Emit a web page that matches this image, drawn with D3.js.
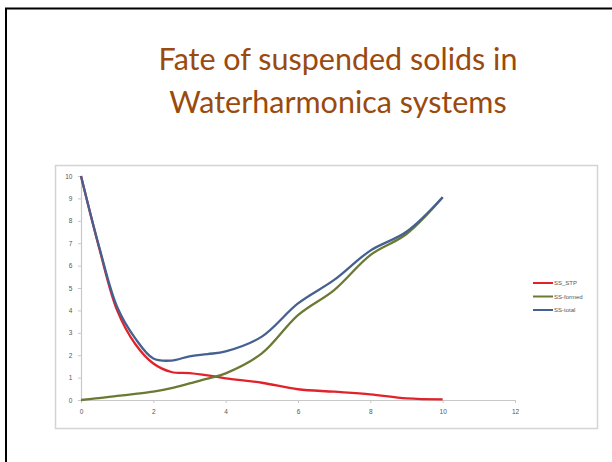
<!DOCTYPE html>
<html>
<head>
<meta charset="utf-8">
<script src="https://cdn.jsdelivr.net/npm/d3@7"></script>
<style>
  html, body { margin: 0; padding: 0; background: #fff; }
  svg { display: block; }
</style>
</head>
<body>
<svg></svg>
<script>
var width = 612;
var height = 462;

// values
var xValues = [0, 0.5, 1, 1.5, 2, 2.5, 3, 3.5, 4, 5, 6, 7, 8, 9, 10];
var ssStp = [10, 6.8, 4.0, 2.5, 1.63, 1.25, 1.2, 1.1, 0.97, 0.77, 0.48, 0.37, 0.25, 0.07, 0.03];
var ssFormed = [0, 0.08, 0.18, 0.27, 0.37, 0.53, 0.74, 0.95, 1.19, 2.08, 3.79, 4.91, 6.47, 7.41, 9.05];
var ssTotal = [10, 6.85, 4.15, 2.75, 1.85, 1.76, 1.95, 2.05, 2.17, 2.83, 4.31, 5.36, 6.67, 7.51, 9.05];

var seriesNames = ['SS_STP', 'SS-formed', 'SS-total'];
var seriesColors = ['#e2222b', '#6a7a32', '#44618f'];
var xTicks = [0, 2, 4, 6, 8, 10, 12];
var yTicks = [0, 1, 2, 3, 4, 5, 6, 7, 8, 9, 10];
var titleLines = ['Fate of suspended solids in', 'Waterharmonica systems'];

var svg = d3.select('svg')
	.attr('width', width)
	.attr('height', height);

// slide frame
svg.append('path')
	.attr('d', 'M6,462 L6,8.5 L612,8.5')
	.attr('fill', 'none')
	.attr('stroke', '#000')
	.attr('stroke-width', 2);

svg.selectAll('text.title')
	.data(titleLines)
	.enter()
	.append('text')
	.attr('class', 'title')
	.attr('x', 338)
	.attr('y', function(d, i) { return 70 + i * 43; })
	.attr('text-anchor', 'middle')
	.attr('font-family', 'Lato, sans-serif')
	.attr('font-size', 30.5)
	.attr('fill', '#9a4a0e')
	.text(function(d) { return d; });

// chart box
svg.append('rect')
	.attr('x', 55.5)
	.attr('y', 165.5)
	.attr('width', 542)
	.attr('height', 263)
	.attr('fill', '#fff')
	.attr('stroke', '#d4d4d4')
	.attr('stroke-width', 1.5);

var x = d3.scaleLinear()
	.domain([0, 12])
	.range([81, 515]);

var y = d3.scaleLinear()
	.domain([0, 10])
	.range([400, 176]);

var xAxis = d3.axisBottom(x)
	.tickValues(xTicks)
	.tickSize(3)
	.tickSizeOuter(0);

var yAxis = d3.axisLeft(y)
	.tickValues(yTicks)
	.tickSize(3)
	.tickSizeOuter(0);

var gx = svg.append('g')
	.attr('transform', 'translate(0,400)')
	.call(xAxis);

var gy = svg.append('g')
	.attr('transform', 'translate(81,0)')
	.call(yAxis);

[gx, gy].forEach(function(g) {
	g.select('.domain').attr('stroke', '#c8c8c8').attr('stroke-width', 1.2);
	g.selectAll('.tick line').attr('stroke', '#c8c8c8');
	g.selectAll('.tick text')
		.attr('fill', '#555')
		.attr('font-size', 6.5)
		.attr('font-family', 'Liberation Sans, sans-serif');
});
gx.selectAll('.tick text').attr('dy', '1.3em');
gy.selectAll('.tick text').attr('dx', '-0.4em');

var line = d3.line()
	.x(function(d) { return x(d.x); })
	.y(function(d) { return y(d.y); })
	.curve(d3.curveCatmullRom.alpha(0.5));

function plot(values, color) {
	var pts = xValues.map(function(d, i) { return { x: d, y: values[i] }; });
	svg.append('path')
		.attr('d', line(pts))
		.attr('stroke', color)
		.attr('stroke-width', 2.3)
		.attr('fill', 'none');
}

plot(ssStp, seriesColors[0]);
plot(ssFormed, seriesColors[1]);
plot(ssTotal, seriesColors[2]);

// legend
var legend = svg.selectAll('g.legend')
	.data(seriesNames)
	.enter()
	.append('g')
	.attr('class', 'legend')
	.attr('transform', function(d, i) { return 'translate(533,' + (283 + i * 13.5) + ')'; });

legend.append('line')
	.attr('x1', 0)
	.attr('x2', 20)
	.attr('stroke', function(d, i) { return seriesColors[i]; })
	.attr('stroke-width', 2);

legend.append('text')
	.attr('x', 21)
	.attr('y', 2)
	.attr('font-size', 6)
	.attr('font-family', 'Liberation Sans, sans-serif')
	.attr('fill', '#555')
	.text(function(d) { return d; });
</script>
</body>
</html>
